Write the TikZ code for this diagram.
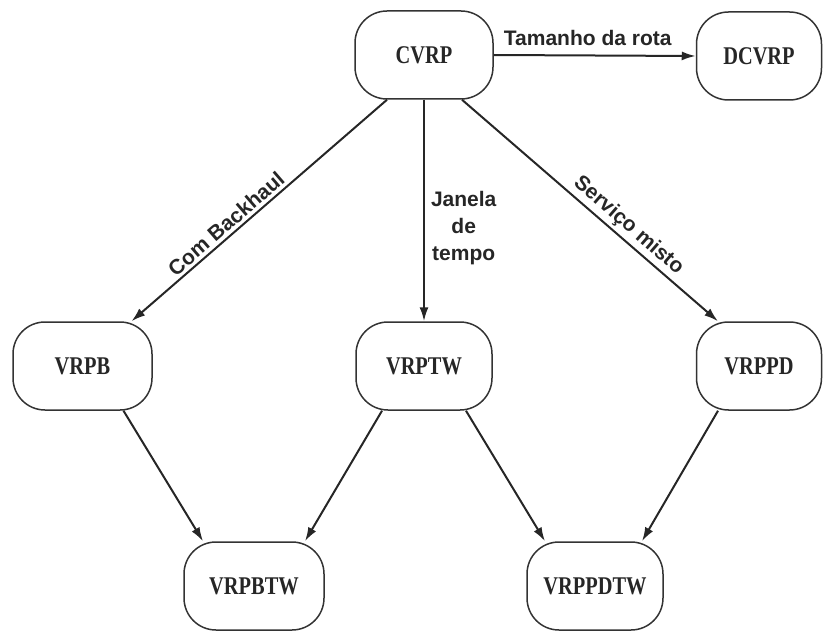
\documentclass[tikz,border=0pt]{standalone}
\usepackage{fontspec}
\setmainfont{Liberation Serif}
\newfontfamily\boxfont[FakeStretch=0.8]{Liberation Serif}
\newfontfamily\lblfont{Liberation Sans}
\usetikzlibrary{arrows.meta,calc}
\begin{document}
\begin{tikzpicture}[x=1pt,y=-1pt,
  box/.style={draw=black!80, line width=1.5pt, rounded corners=32pt,
    minimum height=88pt, inner sep=0pt, text=black!85,
    font=\boxfont\bfseries\fontsize{25.5}{30}\selectfont},
  arr/.style={draw=black!85, line width=2pt, -{Latex[length=14pt,width=9pt]}},
  lbl/.style={font=\lblfont\bfseries\fontsize{21}{27}\selectfont, text=black!85, inner sep=3pt}]
\useasboundingbox (0,0) rectangle (825,631);

\node[box, minimum width=138pt] (cvrp) at (424,55) {CVRP};
\node[box, minimum width=125pt] (dcvrp) at (759,56) {DCVRP};
\node[box, minimum width=139pt] (vrpb) at (82.5,366) {VRPB};
\node[box, minimum width=136pt] (vrptw) at (424,366) {VRPTW};
\node[box, minimum width=125pt] (vrppd) at (759,366) {VRPPD};
\node[box, minimum width=140pt] (vrpbtw) at (254,586) {VRPBTW};
\node[box, minimum width=136pt] (vrppdtw) at (595,586) {VRPPDTW};

\draw[arr] (cvrp.east) -- node[lbl, midway, anchor=base, inner sep=0pt, yshift=10pt, xshift=-7pt] {Tamanho da rota} (dcvrp.west);
\draw[arr] ([xshift=-37pt]cvrp.south) -- node[lbl, sloped, above, pos=0.6] {Com Backhaul} ([xshift=49pt]vrpb.north);
\draw[arr] (cvrp.south) -- node[lbl, right, align=center, pos=0.58, inner sep=6pt] {Janela\\de\\tempo} (vrptw.north);
\draw[arr] ([xshift=38pt]cvrp.south) -- node[lbl, sloped, above, pos=0.615] {Serviço misto} ([xshift=-41pt]vrppd.north);

\draw[arr] ([xshift=41pt]vrpb.south) -- ([xshift=-51pt]vrpbtw.north);
\draw[arr] ([xshift=-42pt]vrptw.south) -- ([xshift=51pt]vrpbtw.north);
\draw[arr] ([xshift=42pt]vrptw.south) -- ([xshift=-50pt]vrppdtw.north);
\draw[arr] ([xshift=-41pt]vrppd.south) -- ([xshift=47pt]vrppdtw.north);
\end{tikzpicture}
\end{document}
